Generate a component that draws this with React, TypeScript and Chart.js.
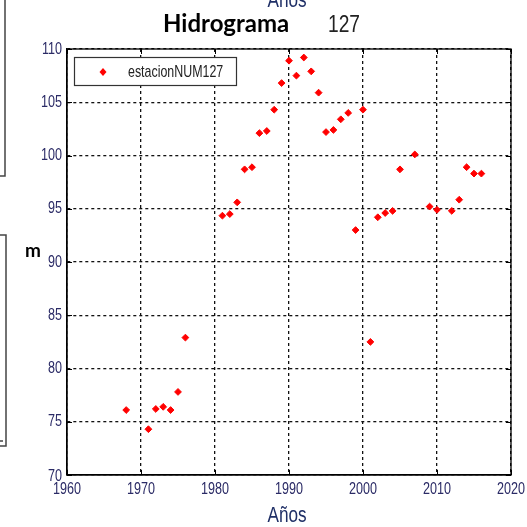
import React, { useEffect, useRef } from "react";
import { Chart, registerables } from "chart.js";

Chart.register(...registerables);

// Annual water-level readings for station 127 (metres)
const years = [
  1968, 1971, 1972, 1973, 1974, 1975, 1976, 1981, 1982, 1983, 1984, 1985, 1986,
  1987, 1988, 1989, 1990, 1991, 1992, 1993, 1994, 1995, 1996, 1997, 1998, 1999,
  2000, 2001, 2002, 2003, 2004, 2005, 2007, 2009, 2010, 2012, 2013, 2014, 2015,
  2016,
];
const levels = [
  76.1, 74.3, 76.2, 76.4, 76.1, 77.8, 82.9, 94.35, 94.5, 95.6, 98.7, 98.9, 102.1,
  102.3, 104.3, 106.8, 108.9, 107.5, 109.2, 107.9, 105.9, 102.2, 102.4, 103.4,
  104.0, 93.0, 104.3, 82.5, 94.2, 94.6, 94.8, 98.7, 100.1, 95.2, 94.9, 94.8,
  95.85, 98.9, 98.3, 98.3,
];
const xTicks = [1960, 1970, 1980, 1990, 2000, 2010, 2020];
const yTicks = [70, 75, 80, 85, 90, 95, 100, 105, 110];
const seriesName = "estacionNUM127";
const titleMain = "Hidrograma";
const titleNum = "127";
const xTitle = "Años";
const yTitle = "m";

const SANS = '"Liberation Sans", Arial, sans-serif';
const TICK_COLOR = "#2b2b66";
const AXIS_TITLE_COLOR = "#1f2f66";

// Draw text squeezed horizontally to mimic a condensed face
function narrowText(
  ctx: CanvasRenderingContext2D,
  text: string,
  x: number,
  y: number,
  size: number,
  sx: number,
  align: CanvasTextAlign,
  baseline: CanvasTextBaseline,
  color: string
) {
  ctx.save();
  ctx.font = `${size}px ${SANS}`;
  ctx.fillStyle = color;
  ctx.textAlign = align;
  ctx.textBaseline = baseline;
  ctx.translate(x, y);
  ctx.scale(sx, 1);
  ctx.fillText(text, 0, 0);
  ctx.restore();
}

const decorations = {
  id: "decorations",
  afterDraw(chart: any) {
    const { ctx, chartArea: a, scales } = chart;
    const xs = scales.x;
    const ys = scales.y;
    ctx.save();

    // inward tick marks on all four sides
    ctx.strokeStyle = "#000";
    ctx.lineWidth = 1;
    ctx.setLineDash([]);
    ctx.beginPath();
    for (const t of xTicks) {
      const px = Math.round(xs.getPixelForValue(t)) + 0.5;
      ctx.moveTo(px, a.top);
      ctx.lineTo(px, a.top + 5);
      ctx.moveTo(px, a.bottom);
      ctx.lineTo(px, a.bottom - 5);
    }
    for (const t of yTicks) {
      const py = Math.round(ys.getPixelForValue(t)) + 0.5;
      ctx.moveTo(a.left, py);
      ctx.lineTo(a.left + 5, py);
      ctx.moveTo(a.right, py);
      ctx.lineTo(a.right - 5, py);
    }
    ctx.stroke();

    // tick labels
    for (const t of xTicks) {
      narrowText(ctx, String(t), xs.getPixelForValue(t), 489, 17, 0.74, "center", "middle", TICK_COLOR);
    }
    for (const t of yTicks) {
      const py = ys.getPixelForValue(t) + (t === 70 ? 1 : 0);
      narrowText(ctx, String(t), 62, py, 17, 0.74, "right", "middle", TICK_COLOR);
    }

    // legend box
    const lx = 74, ly = 57, lw = 162, lh = 28;
    ctx.fillStyle = "#fff";
    ctx.fillRect(lx, ly, lw, lh);
    ctx.strokeStyle = "#333";
    ctx.lineWidth = 1.2;
    ctx.strokeRect(lx + 0.5, ly + 0.5, lw, lh);
    ctx.fillStyle = "#ff0000";
    ctx.beginPath();
    ctx.moveTo(103, 72 - 4);
    ctx.lineTo(103 + 3.5, 72);
    ctx.lineTo(103, 72 + 4);
    ctx.lineTo(103 - 3.5, 72);
    ctx.closePath();
    ctx.fill();
    narrowText(ctx, seriesName, 128, 72, 17, 0.73, "left", "middle", "#222");

    // titles
    ctx.fillStyle = "#000";
    ctx.font = 'bold 24px Lato, "Open Sans", sans-serif';
    ctx.textAlign = "left";
    ctx.textBaseline = "alphabetic";
    ctx.fillText(titleMain, 163, 32);
    narrowText(ctx, titleNum, 328, 32, 24, 0.8, "left", "alphabetic", "#222");

    // clipped axis title above the plot, and the real one below
    narrowText(ctx, xTitle, 287, 7, 22, 0.78, "center", "alphabetic", AXIS_TITLE_COLOR);
    narrowText(ctx, xTitle, 287, 522, 22, 0.78, "center", "alphabetic", AXIS_TITLE_COLOR);

    // horizontal y-axis title
    ctx.fillStyle = "#000";
    ctx.font = 'bold 19px Lato, "Open Sans", sans-serif';
    ctx.textAlign = "left";
    ctx.textBaseline = "alphabetic";
    ctx.fillText(yTitle, 25, 257);

    // neighbouring panel frames at the left edge
    ctx.strokeStyle = "#444";
    ctx.lineWidth = 1.5;
    ctx.beginPath();
    ctx.moveTo(5, 0);
    ctx.lineTo(5, 176);
    ctx.lineTo(0, 176);
    ctx.moveTo(0, 235);
    ctx.lineTo(6, 235);
    ctx.lineTo(6, 446);
    ctx.lineTo(0, 446);
    ctx.moveTo(0, 441);
    ctx.lineTo(3, 441);
    ctx.stroke();

    ctx.restore();
  },
};

export default function App() {
  const ref = useRef<HTMLCanvasElement>(null);

  useEffect(() => {
    document.body.style.margin = "0";
    const canvas = ref.current!;
    const chart = new Chart(canvas, {
      type: "scatter",
      data: {
        datasets: [
          {
            label: seriesName,
            data: years.map((y, i) => ({ x: y, y: levels[i] })),
            pointStyle: "rectRot",
            pointRadius: 3.4,
            pointBackgroundColor: "#ff0000",
            pointBorderColor: "#ff0000",
            pointBorderWidth: 1,
            showLine: false,
          },
        ],
      },
      options: {
        responsive: false,
        animation: false,
        devicePixelRatio: 1,
        layout: { padding: { top: 49, right: 16, left: 0, bottom: 0 } },
        plugins: {
          legend: { display: false },
          tooltip: { enabled: false },
          title: { display: false },
        },
        scales: {
          x: {
            type: "linear",
            min: 1960,
            max: 2020,
            afterBuildTicks: (s: any) => {
              s.ticks = xTicks.map((v) => ({ value: v }));
            },
            afterFit: (s: any) => {
              s.height = 52;
            },
            ticks: { display: false, autoSkip: false },
            grid: { color: "#111", lineWidth: 1.3, drawTicks: false },
            border: { display: true, color: "#000", width: 1.3, dash: [3, 3] },
          },
          y: {
            type: "linear",
            min: 70,
            max: 110,
            afterBuildTicks: (s: any) => {
              s.ticks = yTicks.map((v) => ({ value: v }));
            },
            afterFit: (s: any) => {
              s.width = 67;
            },
            ticks: { display: false, autoSkip: false },
            grid: { color: "#111", lineWidth: 1.3, drawTicks: false },
            border: { display: true, color: "#000", width: 1.3, dash: [3, 3] },
          },
        },
      },
      plugins: [
        {
          id: "frame",
          beforeDatasetsDraw(chart: any) {
            const { ctx, chartArea: a } = chart;
            ctx.save();
            ctx.strokeStyle = "#000";
            ctx.lineWidth = 1.3;
            ctx.setLineDash([]);
            ctx.strokeRect(a.left, a.top, a.right - a.left, a.bottom - a.top);
            ctx.restore();
          },
        },
        decorations,
      ],
    } as any);
    return () => chart.destroy();
  }, []);

  return (
    <div style={{ position: "fixed", left: 0, top: 0, width: 527, height: 527, background: "#fff" }}>
      <canvas ref={ref} width={527} height={527} style={{ display: "block" }} />
    </div>
  );
}
